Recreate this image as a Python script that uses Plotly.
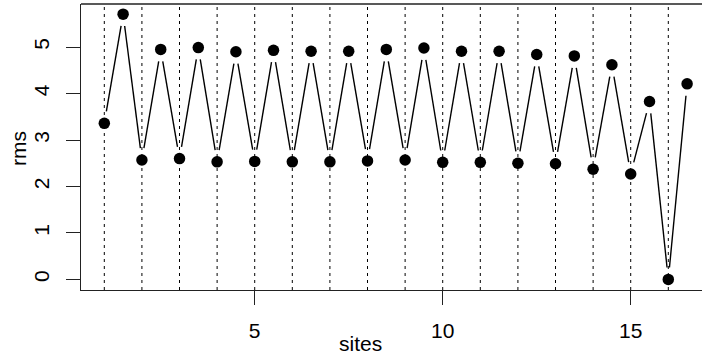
import math
import plotly.graph_objects as go

# site positions and rms values
sites = [1, 1.5, 2, 2.5, 3, 3.5, 4, 4.5, 5, 5.5, 6, 6.5, 7, 7.5, 8, 8.5,
         9, 9.5, 10, 10.5, 11, 11.5, 12, 12.5, 13, 13.5, 14, 14.5, 15, 15.5, 16, 16.5]
rms = [3.36, 5.71, 2.57, 4.95, 2.60, 4.99, 2.53, 4.90, 2.54, 4.93, 2.53, 4.91,
       2.53, 4.91, 2.55, 4.95, 2.57, 4.98, 2.52, 4.91, 2.52, 4.91, 2.50, 4.84,
       2.49, 4.81, 2.37, 4.62, 2.27, 3.83, 0.00, 4.21]
site_lines = list(range(1, 17))
x_ticks = [5, 10, 15]
y_ticks = [0, 1, 2, 3, 4, 5]

W, H = 702, 358
ML, MR, MT, MB = 81, 0, 4, 68
x_lo = 0.38
y_lo, y_hi = -0.228, 5.928
px_per_x = 37.6
x_hi = x_lo + (W - ML - MR) / px_per_x
px_per_y = (H - MT - MB) / (y_hi - y_lo)

# connecting segments, trimmed near each point (type "b" style)
gap = 12.0
seg_x, seg_y = [], []
for i in range(len(sites) - 1):
    x0, y0, x1, y1 = sites[i], rms[i], sites[i + 1], rms[i + 1]
    dx = (x1 - x0) * px_per_x
    dy = (y1 - y0) * px_per_y
    L = math.hypot(dx, dy)
    if L <= 2 * gap:
        continue
    f = gap / L
    seg_x += [x0 + (x1 - x0) * f, x1 - (x1 - x0) * f, None]
    seg_y += [y0 + (y1 - y0) * f, y1 - (y1 - y0) * f, None]

fig = go.Figure()
fig.add_trace(go.Scatter(x=seg_x, y=seg_y, mode="lines",
                         line=dict(color="black", width=1.4),
                         hoverinfo="skip", showlegend=False))
fig.add_trace(go.Scatter(x=sites, y=rms, mode="markers",
                         marker=dict(color="black", size=11.5, line=dict(width=0)),
                         showlegend=False))

for s in site_lines:
    fig.add_shape(type="line", xref="x", yref="paper", x0=s, x1=s, y0=0, y1=1,
                  line=dict(color="black", width=1, dash="3px,4px"), layer="below")

# top border of the box
fig.add_shape(type="line", xref="paper", yref="paper", x0=0, x1=1, y0=1, y1=1,
              line=dict(color="#222222", width=1.3))

font = dict(family="Liberation Sans, Arial, sans-serif", size=21, color="black")

fig.update_layout(
    width=W, height=H,
    margin=dict(l=ML, r=MR, t=MT, b=MB),
    paper_bgcolor="white", plot_bgcolor="white",
    font=font,
    xaxis=dict(range=[x_lo, x_hi], tickvals=x_ticks, ticks="outside", ticklen=14,
               tickwidth=1.3, tickcolor="#222222", showline=True, linecolor="#222222",
               linewidth=1.3, showgrid=False, zeroline=False, tickfont=font,
               ticklabelstandoff=8),
    yaxis=dict(range=[y_lo, y_hi], tickvals=y_ticks, ticks="outside", ticklen=14,
               tickwidth=1.3, tickcolor="#222222", showline=True, linecolor="#222222",
               linewidth=1.3, showgrid=False, zeroline=False, tickfont=font,
               tickangle=-90, ticklabelstandoff=8),
    annotations=[
        dict(text="sites", x=(360 - ML) / (W - ML - MR), y=(H - 343 - MB) / (H - MT - MB),
             xref="paper", yref="paper", showarrow=False, font=font,
             xanchor="center", yanchor="middle"),
        dict(text="rms", x=(18 - ML) / (W - ML - MR), y=(H - 148 - MB) / (H - MT - MB),
             xref="paper", yref="paper", showarrow=False, font=font, textangle=-90,
             xanchor="center", yanchor="middle"),
    ],
)

fig.write_html("out.html")
